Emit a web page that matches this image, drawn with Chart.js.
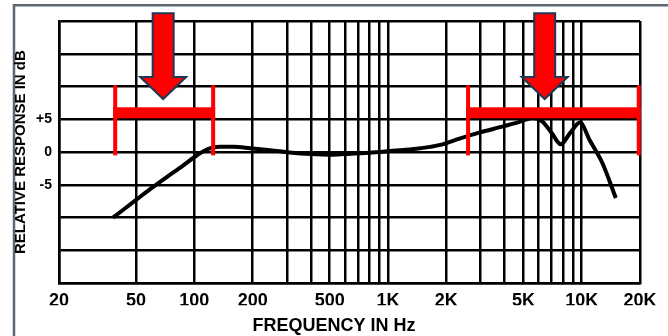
<!DOCTYPE html>
<html>
<head>
<meta charset="utf-8">
<script src="https://cdn.jsdelivr.net/npm/chart.js@4.4.1/dist/chart.umd.min.js"></script>
<style>
html,body{margin:0;padding:0;background:#fff;}
#wrap{position:relative;width:668px;height:336px;}
canvas{display:block;}
</style>
</head>
<body>
<div id="wrap"><canvas id="c" width="668" height="336"></canvas></div>
<script>
// ---- data ----
const freqHz = [38, 50, 60, 72, 87, 104, 118, 135, 160, 194, 246, 320, 400, 500, 600, 800, 1060, 1400, 1650, 1860, 2360, 2990, 3790, 4640, 5600, 6300, 7000, 7800, 8700, 9800, 11000, 12800, 15000];
const responseDb = [-10.0, -7.3, -5.5, -3.8, -2.1, -0.4, 0.5, 0.8, 0.8, 0.6, 0.3, -0.1, -0.3, -0.4, -0.3, -0.1, 0.2, 0.5, 0.8, 1.1, 2.1, 3.0, 3.8, 4.5, 5.2, 4.6, 2.9, 1.2, 2.9, 4.5, 1.8, -1.7, -7.0];

const xGridValues = [20, 50, 100, 200, 300, 400, 500, 600, 700, 800, 900, 1000, 2000, 3000, 4000, 5000, 6000, 7000, 8000, 9000, 10000, 20000];
const xLabelValues = [20, 50, 100, 200, 500, 1000, 2000, 5000, 10000, 20000];
const xLabelTexts = ['20', '50', '100', '200', '500', '1K', '2K', '5K', '10K', '20K'];
const yLabelValues = [5, 0, -5];
const yLabelTexts = ['+5', '0', '-5'];

// highlighted bands (Hz) and the dB level of their bars
const bandLowHz = [39, 2590];
const bandHighHz = [125, 19700];
const bandDb = [6, 6];
const arrowHz = [69, 6440];

const FONT = "'Liberation Sans', Arial, Helvetica, sans-serif";

const annot = {
  id: 'annot',
  beforeDraw(chart) {
    const c = chart.ctx;
    c.save();
    c.fillStyle = '#ffffff';
    c.fillRect(0, 0, chart.width, chart.height);
    c.strokeStyle = '#5d6772';
    c.lineWidth = 2.5;
    c.beginPath();
    c.moveTo(14, chart.height);
    c.lineTo(14, 5.3);
    c.lineTo(chart.width, 5.3);
    c.stroke();
    c.restore();
  },
  afterDatasetsDraw(chart) {
    const c = chart.ctx;
    const xs = chart.scales.x, ys = chart.scales.y;
    c.save();
    c.fillStyle = '#ff0000';
    for (let i = 0; i < bandLowHz.length; i++) {
      const x0 = xs.getPixelForValue(bandLowHz[i]);
      const x1 = xs.getPixelForValue(bandHighHz[i]);
      const yb = ys.getPixelForValue(bandDb[i]);
      const yt = ys.getPixelForValue(bandDb[i] + 4.2);
      const ybot = ys.getPixelForValue(-0.5);
      c.fillRect(x0 - 2, yb - 5.5, x1 - x0 + 4, 11);
      c.fillRect(x0 - 2, yt, 4, ybot - yt);
      c.fillRect(x1 - 2, yt, 4, ybot - yt);
    }
    for (let i = 0; i < arrowHz.length; i++) {
      const cx = xs.getPixelForValue(arrowHz[i]);
      const tip = ys.getPixelForValue(bandDb[i] + 2.1);
      const base = ys.getPixelForValue(bandDb[i] + 5.45);
      const top = ys.getPixelForValue(21.2);
      c.beginPath();
      c.moveTo(cx - 10.5, top);
      c.lineTo(cx + 10.5, top);
      c.lineTo(cx + 10.5, base);
      c.lineTo(cx + 23, base);
      c.lineTo(cx, tip);
      c.lineTo(cx - 23, base);
      c.lineTo(cx - 10.5, base);
      c.closePath();
      c.fillStyle = '#ff0000';
      c.fill();
      c.strokeStyle = '#1f3856';
      c.lineWidth = 2;
      c.lineJoin = 'miter';
      c.stroke();
    }
    c.restore();
  }
};

new Chart(document.getElementById('c'), {
  type: 'line',
  data: {
    datasets: [{
      data: freqHz.map((f, i) => ({ x: f, y: responseDb[i] })),
      borderColor: '#000000',
      borderWidth: 4,
      pointRadius: 0,
      fill: false,
      cubicInterpolationMode: 'monotone'
    }]
  },
  options: {
    responsive: false,
    animation: false,
    devicePixelRatio: 1,
    layout: { padding: { left: 0, right: 0, top: 21, bottom: 0 } },
    plugins: {
      legend: { display: false },
      tooltip: { enabled: false },
      title: {
        display: true,
        position: 'bottom',
        text: 'FREQUENCY IN Hz',
        color: '#000',
        font: { family: FONT, size: 18, weight: 'bold', lineHeight: 1.1 },
        padding: { top: 11, bottom: 0 }
      }
    },
    scales: {
      x: {
        type: 'logarithmic',
        min: 20,
        max: 20000,
        afterBuildTicks: s => { s.ticks = xGridValues.map(v => ({ value: v })); },
        afterFit: s => { s.height = 22; },
        grid: { color: '#000', lineWidth: 2.5, drawTicks: false },
        border: { color: '#000', width: 2.5 },
        ticks: {
          autoSkip: false,
          maxRotation: 0,
          padding: 7,
          color: '#000',
          font: { family: FONT, size: 18, weight: 'bold' },
          callback: v => { const i = xLabelValues.indexOf(v); return i >= 0 ? xLabelTexts[i] : ''; }
        }
      },
      y: {
        min: -20,
        max: 20,
        afterFit: s => { s.width = 59; },
        grid: { color: '#000', lineWidth: 2.5, drawTicks: false },
        border: { color: '#000', width: 2.5 },
        ticks: {
          stepSize: 5,
          padding: 7,
          color: '#000',
          font: { family: FONT, size: 14, weight: 'bold' },
          callback: v => { const i = yLabelValues.indexOf(v); return i >= 0 ? yLabelTexts[i] : ''; }
        },
        title: {
          display: true,
          text: 'RELATIVE RESPONSE IN dB',
          color: '#000',
          font: { family: FONT, size: 15, weight: 'bold' },
          padding: { top: 12, bottom: 0 }
        }
      },
      yR: {
        position: 'right',
        display: true,
        afterFit: s => { s.width = 28; },
        grid: { display: false, drawTicks: false },
        border: { display: false },
        ticks: { display: false }
      }
    }
  },
  plugins: [annot]
});
</script>
</body>
</html>
